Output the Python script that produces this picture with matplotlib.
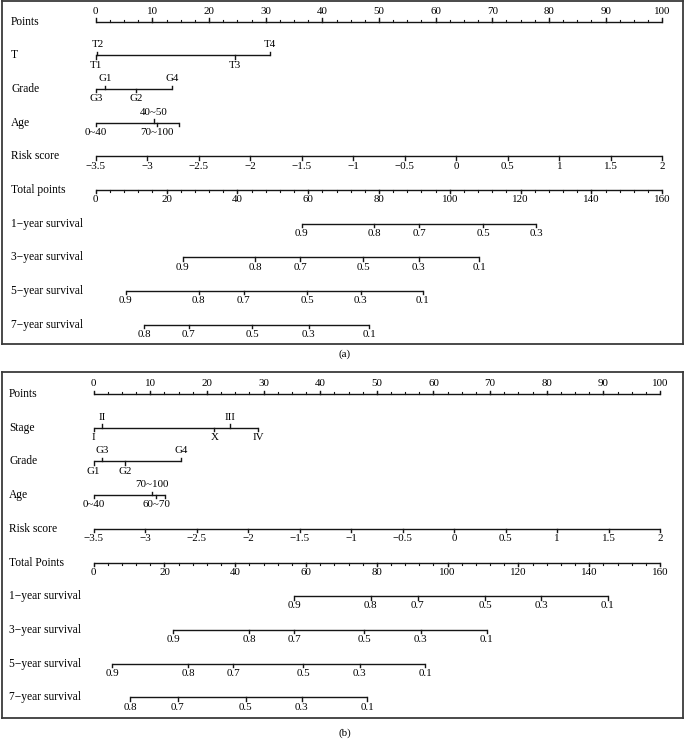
import matplotlib
matplotlib.use('Agg')
import matplotlib.pyplot as plt
import numpy as np

plt.rcParams['font.family'] = ['Liberation Serif', 'DejaVu Serif']

# ---------------- data: panel (a) ----------------
a_points_ticks = list(range(0, 101, 10))
a_T_levels = ['T1', 'T2', 'T3', 'T4']
a_T_pts = [0, 0.3, 24.6, 30.8]
a_T_side = ['below', 'above', 'below', 'above']
a_grade_levels = ['G3', 'G1', 'G2', 'G4']
a_grade_pts = [0, 1.6, 7.06, 13.5]
a_grade_side = ['below', 'above', 'below', 'above']
a_age_levels = ['0~40', '40~50', '70~100', '']
a_age_pts = [0, 10.3, 10.75, 14.75]
a_age_side = ['below', 'above', 'below', 'below']
risk_ticks = [-3.5, -3, -2.5, -2, -1.5, -1, -0.5, 0, 0.5, 1, 1.5, 2]
total_ticks = list(range(0, 161, 20))
a_surv1_lab = ['0.9', '0.8', '0.7', '0.5', '0.3']
a_surv1_tot = [58.2, 78.7, 91.4, 109.4, 124.4]
a_surv3_lab = ['0.9', '0.8', '0.7', '0.5', '0.3', '0.1']
a_surv3_tot = [24.6, 45.0, 57.7, 75.6, 91.2, 108.3]
a_surv5_lab = ['0.9', '0.8', '0.7', '0.5', '0.3', '0.1']
a_surv5_tot = [8.5, 29.1, 41.8, 59.7, 74.8, 92.3]
a_surv7_lab = ['0.8', '0.7', '0.5', '0.3', '0.1']
a_surv7_tot = [13.7, 26.3, 44.2, 60.2, 77.3]

# ---------------- data: panel (b) ----------------
b_stage_levels = ['I', 'II', 'X', 'III', 'IV']
b_stage_pts = [0, 1.41, 21.3, 24.0, 29.07]
b_stage_side = ['below', 'above', 'below', 'above', 'below']
b_grade_levels = ['G1', 'G3', 'G2', 'G4']
b_grade_pts = [0, 1.52, 5.53, 15.5]
b_grade_side = ['below', 'above', 'below', 'above']
b_age_levels = ['0~40', '70~100', '60~70', '']
b_age_pts = [0, 10.24, 11.0, 12.6]
b_age_side = ['below', 'above', 'below', 'below']
b_surv1_lab = ['0.9', '0.8', '0.7', '0.5', '0.3', '0.1']
b_surv1_tot = [56.6, 78.3, 91.5, 110.6, 126.5, 145.2]
b_surv3_lab = ['0.9', '0.8', '0.7', '0.5', '0.3', '0.1']
b_surv3_tot = [22.5, 44.0, 56.6, 76.5, 92.4, 111.0]
b_surv5_lab = ['0.9', '0.8', '0.7', '0.5', '0.3', '0.1']
b_surv5_tot = [5.2, 26.7, 39.4, 59.2, 75.1, 93.7]
b_surv7_lab = ['0.8', '0.7', '0.5', '0.3', '0.1']
b_surv7_tot = [10.3, 23.8, 42.9, 58.8, 77.3]

MAX_TOTAL = 160.0
LC = '#151515'
LW = 1.0
TICK = 0.10
MINOR = 0.06
ROW_FS = 8.3
TICK_FS = 7.9
OFF_ABOVE = 0.31
OFF_BELOW = 0.29

W, H = 689, 749
fig = plt.figure(figsize=(W / 100, H / 100), dpi=100)


def fmt(v):
    s = ('%g' % v)
    return s.replace('-', '\u2212')


def axis_line(ax, y, xs, labels, side, minor=None):
    ax.plot([min(xs), max(xs)], [y, y], color=LC, lw=LW, solid_capstyle='butt')
    sgn = -1 if side == 'above' else 1
    if minor is not None:
        for m in minor:
            ax.plot([m, m], [y, y + sgn * MINOR], color=LC, lw=LW * 0.8)
    for x, lab in zip(xs, labels):
        ax.plot([x, x], [y, y + sgn * TICK], color=LC, lw=LW)
        ty = y - OFF_ABOVE if side == 'above' else y + OFF_BELOW
        ax.text(x, ty, lab, ha='center', va='center', fontsize=TICK_FS)


def cat_line(ax, y, pts, labels, sides):
    ax.plot([min(pts), max(pts)], [y, y], color=LC, lw=LW, solid_capstyle='butt')
    for x, lab, s in zip(pts, labels, sides):
        sgn = -1 if s == 'above' else 1
        ax.plot([x, x], [y, y + sgn * TICK], color=LC, lw=LW)
        if lab:
            ty = y - OFF_ABOVE if s == 'above' else y + OFF_BELOW
            ax.text(x, ty, lab, ha='center', va='center', fontsize=TICK_FS)


def panel(box, x0px, x100px, row0px, rowgap, label_x_px, rows, cap_xy, cap):
    bx0, by0, bx1, by1 = box
    ax = fig.add_axes([bx0 / W, 1 - by1 / H, (bx1 - bx0) / W, (by1 - by0) / H])
    s = (x100px - x0px) / 100.0
    ax.set_xlim((bx0 - x0px) / s, (bx1 - x0px) / s)
    ax.set_ylim((by1 - row0px) / rowgap, (by0 - row0px) / rowgap)
    ax.set_xticks([])
    ax.set_yticks([])
    for sp in ax.spines.values():
        sp.set_color('#3a3a3a')
        sp.set_linewidth(1.3)
    lx = (label_x_px - x0px) / s
    for i, (name, kind, args) in enumerate(rows):
        ax.text(lx, i, name, ha='left', va='center', fontsize=ROW_FS)
        if kind == 'points':
            axis_line(ax, i, args, [fmt(v) for v in args], 'above',
                      minor=np.arange(0, 100.01, 2.5))
        elif kind == 'cat':
            cat_line(ax, i, *args)
        elif kind == 'risk':
            xs = [(v - risk_ticks[0]) / (risk_ticks[-1] - risk_ticks[0]) * 100 for v in args]
            axis_line(ax, i, xs, [fmt(v) for v in args], 'below')
        elif kind == 'total':
            xs = [v / MAX_TOTAL * 100 for v in args]
            axis_line(ax, i, xs, [fmt(v) for v in args], 'below',
                      minor=np.arange(0, 100.01, 2.5))
        elif kind == 'surv':
            labs, tots = args
            xs = [t / MAX_TOTAL * 100 for t in tots]
            axis_line(ax, i, xs, labs, 'below')
    fig.text(cap_xy[0] / W, 1 - cap_xy[1] / H, cap, ha='center', va='center', fontsize=7.9)
    return ax


rows_a = [
    ('Points', 'points', a_points_ticks),
    ('T', 'cat', (a_T_pts, a_T_levels, a_T_side)),
    ('Grade', 'cat', (a_grade_pts, a_grade_levels, a_grade_side)),
    ('Age', 'cat', (a_age_pts, a_age_levels, a_age_side)),
    ('Risk score', 'risk', risk_ticks),
    ('Total points', 'total', total_ticks),
    ('1\u2212year survival', 'surv', (a_surv1_lab, a_surv1_tot)),
    ('3\u2212year survival', 'surv', (a_surv3_lab, a_surv3_tot)),
    ('5\u2212year survival', 'surv', (a_surv5_lab, a_surv5_tot)),
    ('7\u2212year survival', 'surv', (a_surv7_lab, a_surv7_tot)),
]
rows_b = [
    ('Points', 'points', a_points_ticks),
    ('Stage', 'cat', (b_stage_pts, b_stage_levels, b_stage_side)),
    ('Grade', 'cat', (b_grade_pts, b_grade_levels, b_grade_side)),
    ('Age', 'cat', (b_age_pts, b_age_levels, b_age_side)),
    ('Risk score', 'risk', risk_ticks),
    ('Total Points', 'total', total_ticks),
    ('1\u2212year survival', 'surv', (b_surv1_lab, b_surv1_tot)),
    ('3\u2212year survival', 'surv', (b_surv3_lab, b_surv3_tot)),
    ('5\u2212year survival', 'surv', (b_surv5_lab, b_surv5_tot)),
    ('7\u2212year survival', 'surv', (b_surv7_lab, b_surv7_tot)),
]

panel((2, 1, 683, 344), 95.7, 662.3, 21.7, 33.67, 11, rows_a, (345, 354), '(a)')
panel((2, 372, 683, 718.3), 93.7, 660.0, 394.0, 33.7, 9, rows_b, (345, 733), '(b)')

fig.savefig('out.png', dpi=100)
